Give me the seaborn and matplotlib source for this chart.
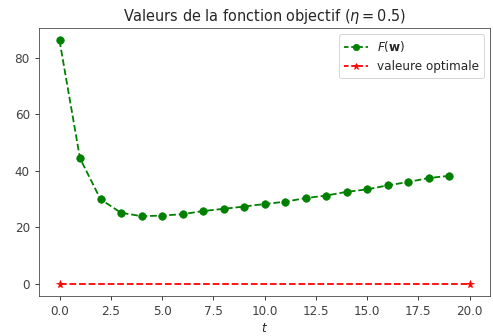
import matplotlib
matplotlib.use("Agg")
import matplotlib.pyplot as plt
import seaborn as sns
import numpy as np

# Objective values per iteration
t_values = list(range(20))
f_values = [86.2, 44.4, 29.9, 25.1, 23.9, 24.1, 24.6, 25.7, 26.5, 27.3,
            28.2, 29.0, 30.3, 31.2, 32.5, 33.4, 34.8, 36.0, 37.4, 38.2]

# Optimal value reference line
t_opt = [0, 20]
f_opt = [0, 0]

sns.set_style("ticks", {"axes.edgecolor": "0.25", "xtick.color": "0.25", "ytick.color": "0.25"})
plt.rcParams["font.family"] = ["DejaVu Sans"]

fig = plt.figure(figsize=(493 / 72, 336 / 72), dpi=72)
ax = fig.add_axes([39 / 493, 1 - 295.7 / 336, (490 - 39) / 493, (295.7 - 28.3) / 336])

sns.lineplot(x=t_values, y=f_values, ax=ax, color="green", linestyle="--",
             marker="o", markersize=7.5, markeredgecolor="green",
             label=r"$F(\mathbf{w})$", linewidth=1.8)
sns.lineplot(x=t_opt, y=f_opt, ax=ax, color="red", linestyle="--",
             marker="*", markersize=8, markeredgecolor="red",
             label="valeure optimale", linewidth=1.8)

ax.set_xlim(-1, 21)
ax.set_ylim(-4.3, 90.5)
ax.set_xticks(np.arange(0, 20.1, 2.5))
ax.set_yticks([0, 20, 40, 60, 80])
ax.tick_params(labelsize=12, length=4.2, width=1.0, pad=5)
ax.set_xlabel(r"$t$", fontsize=12, labelpad=4)
ax.set_title(r"Valeurs de la fonction objectif ($\eta = 0.5$)", fontsize=14.5, pad=7)
leg = ax.legend(loc="upper right", fontsize=12, handlelength=2.0, markerscale=0.85)
for line in leg.get_lines():
    line.set_dashes((2.5, 1.5))

fig.savefig("out.png", dpi=72)
